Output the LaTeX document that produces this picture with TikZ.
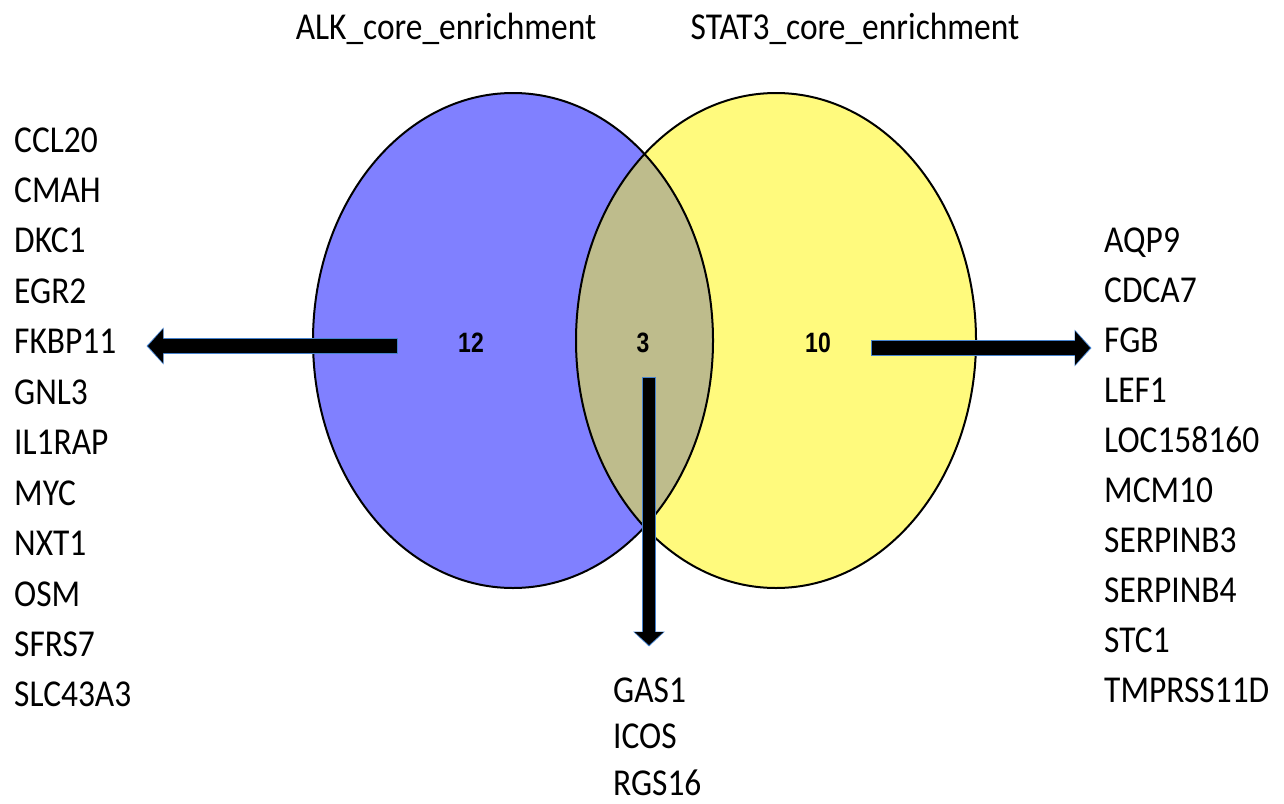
\documentclass[tikz,border=0pt]{standalone}
\usepackage{fontspec}
\setmainfont{Carlito}[FakeStretch=0.88]
\newfontfamily\numfont{Liberation Sans}[FakeStretch=0.82]
\usetikzlibrary{arrows.meta}
\definecolor{setA}{RGB}{128,128,255}
\definecolor{setB}{RGB}{255,250,125}
\definecolor{setAB}{RGB}{190,188,140}
\definecolor{arrowedge}{RGB}{70,130,205}
\tikzset{
  gene/.style={anchor=base west, inner sep=0pt, font=\fontsize{38}{38}\selectfont},
  title/.style={anchor=base, inner sep=0pt, font=\fontsize{38}{38}\selectfont},
  count/.style={inner sep=0pt, font=\numfont\bfseries\fontsize{28}{28}\selectfont},
  setline/.style={line width=2pt, draw=black},
  bigarrow/.style={line width=14pt, -{Triangle[width=33pt,length=15pt]},
    preaction={draw=arrowedge, line width=16pt, shorten >=-1.5pt, shorten <=-1pt,
      -{Triangle[width=36pt,length=17pt]}}},
  downarrow/.style={line width=12pt, -{Triangle[width=28pt,length=13pt]},
    preaction={draw=arrowedge, line width=14pt, shorten >=-1.5pt, shorten <=-1pt,
      -{Triangle[width=31pt,length=15pt]}}},
}
\begin{document}
\begin{tikzpicture}[x=1pt,y=-1pt]
\useasboundingbox (0,0) rectangle (1284,803);
\fill[white] (0,0) rectangle (1284,803);
% sets
\fill[setA] (513,340.5) ellipse [x radius=200pt, y radius=247.5pt];
\fill[setB] (776,340.5) ellipse [x radius=200pt, y radius=247.5pt];
\begin{scope}
  \clip (513,340.5) ellipse [x radius=200pt, y radius=247.5pt];
  \fill[setAB] (776,340.5) ellipse [x radius=200pt, y radius=247.5pt];
\end{scope}
\draw[setline] (513,340.5) ellipse [x radius=200pt, y radius=247.5pt];
\draw[setline] (776,340.5) ellipse [x radius=200pt, y radius=247.5pt];
% titles
\node[title] (tA) at (446,39) {ALK\_core\_enrichment};
\node[title] (tB) at (855,39) {STAT3\_core\_enrichment};
% counts
\node[count] (n12) at (471,343) {12};
\node[count] (n3) at (643,343) {3};
\node[count] (n10) at (818,343) {10};
% gene lists
\foreach \g [count=\i from 0] in {CCL20,CMAH,DKC1,EGR2,FKBP11,GNL3,IL1RAP,MYC,NXT1,OSM,SFRS7,SLC43A3}
  \node[gene] (L\i) at (14,{152+50.45*\i}) {\g};
\foreach \g [count=\i from 0] in {AQP9,CDCA7,FGB,LEF1,LOC158160,MCM10,SERPINB3,SERPINB4,STC1,TMPRSS11D}
  \node[gene] (R\i) at (1104,{252+50.1*\i}) {\g};
\foreach \g [count=\i from 0] in {GAS1,ICOS,RGS16}
  \node[gene] (B\i) at (613,{702+46.5*\i}) {\g};
% arrows
\coordinate (a12s) at (397,346);
\coordinate (a12e) at (148,346);
\coordinate (a10s) at (872,348);
\coordinate (a10e) at (1090,348);
\coordinate (a3s) at (649,378);
\coordinate (a3e) at (649,645);
\draw[bigarrow] (a12s) -- (a12e);
\draw[bigarrow] (a10s) -- (a10e);
\draw[downarrow] (a3s) -- (a3e);
\end{tikzpicture}
\end{document}
